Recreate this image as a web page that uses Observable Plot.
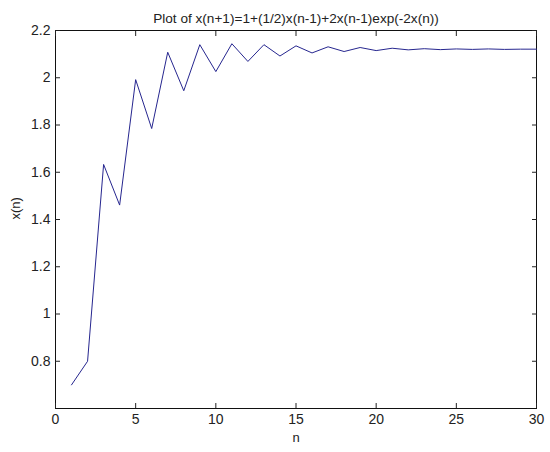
<!DOCTYPE html>
<html>
<head>
<meta charset="utf-8">
<script src="https://cdn.jsdelivr.net/npm/d3@7"></script>
<script src="https://cdn.jsdelivr.net/npm/@observablehq/plot@0.6"></script>
<style>
  html, body { margin: 0; padding: 0; background: #fff; }
</style>
</head>
<body>
<div id="chart"></div>
<script>
const titleText = "Plot of x(n+1)=1+(1/2)x(n-1)+2x(n-1)exp(-2x(n))";
const xLabel = "n";
const yLabel = "x(n)";
const nValues = d3.range(1, 31);
const xnValues = [
  0.70, 0.80, 1.633, 1.461, 1.992, 1.785, 2.108, 1.945, 2.140, 2.026,
  2.144, 2.069, 2.140, 2.092, 2.135, 2.105, 2.131, 2.111, 2.128, 2.115,
  2.125, 2.118, 2.123, 2.119, 2.122, 2.120, 2.122, 2.120, 2.121, 2.121
];
const xTicks = [0, 5, 10, 15, 20, 25, 30];
const yTicks = [0.8, 1, 1.2, 1.4, 1.6, 1.8, 2, 2.2];

const data = nValues.map((n, i) => ({n, x: xnValues[i]}));
const font = "'Liberation Sans', Arial, sans-serif";

const chart = Plot.plot({
  width: 550,
  height: 452,
  marginLeft: 55,
  marginRight: 14,
  marginTop: 30,
  marginBottom: 44,
  style: {fontFamily: font, fontSize: "14px", color: "#222", background: "#fff"},
  x: {domain: [0, 30]},
  y: {domain: [0.6, 2.2]},
  marks: [
    Plot.frame({stroke: "#111", strokeWidth: 1}),
    Plot.axisX(xTicks, {anchor: "bottom", tickSize: -5, tickPadding: 11, label: null, fontSize: 14, tickFormat: d => String(d)}),
    Plot.axisX(xTicks, {anchor: "top", tickSize: -5, tickFormat: () => "", label: null}),
    Plot.axisY(yTicks, {anchor: "left", tickSize: -5, tickPadding: 10, label: null, fontSize: 14, tickFormat: d => String(d)}),
    Plot.axisY(yTicks, {anchor: "right", tickSize: -5, tickFormat: () => "", label: null}),
    Plot.lineY(data, {x: "n", y: "x", stroke: "#26268f", strokeWidth: 1}),
    Plot.text([titleText], {frameAnchor: "top", dy: -17, fontSize: 13.6, fill: "#222"}),
    Plot.text([xLabel], {frameAnchor: "bottom", dy: 33, fontSize: 13, fill: "#222"}),
    Plot.text([yLabel], {frameAnchor: "left", dx: -40, rotate: -90, fontSize: 13, fill: "#222"})
  ]
});
document.getElementById("chart").appendChild(chart);
</script>
</body>
</html>
